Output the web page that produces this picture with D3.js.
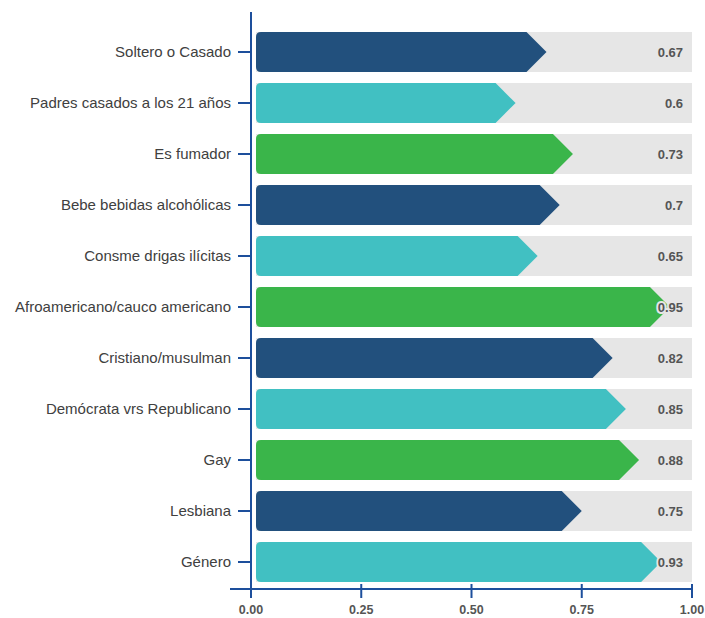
<!DOCTYPE html>
<html>
<head>
<meta charset="utf-8">
<script src="https://cdn.jsdelivr.net/npm/d3@7"></script>
<style>
  html, body { margin: 0; padding: 0; background: #ffffff; }
  svg { display: block; }
</style>
</head>
<body>
<svg id="chart" width="705" height="618"></svg>
<script>
// Categories, top to bottom
const categories = [
  "Soltero o Casado",
  "Padres casados a los 21 años",
  "Es fumador",
  "Bebe bebidas alcohólicas",
  "Consme drigas ilícitas",
  "Afroamericano/cauco americano",
  "Cristiano/musulman",
  "Demócrata vrs Republicano",
  "Gay",
  "Lesbiana",
  "Género"
];

// Value per category
const values = [0.67, 0.6, 0.73, 0.7, 0.65, 0.95, 0.82, 0.85, 0.88, 0.75, 0.93];

// Value labels as printed
const valueLabels = ["0.67", "0.6", "0.73", "0.7", "0.65", "0.95", "0.82", "0.85", "0.88", "0.75", "0.93"];

// X axis ticks
const xTicks = [0, 0.25, 0.5, 0.75, 1];
const xTickLabels = ["0.00", "0.25", "0.50", "0.75", "1.00"];

// Bar colours cycle
const palette = ["#22507d", "#41c0c2", "#3ab54a"];

const svg = d3.select("#chart");
const axisColor = "#1d4f9c";
const trackColor = "#e6e6e6";

const x = d3.scaleLinear().domain([0, 1]).range([251, 692]);
const y = d3.scaleBand()
  .domain(categories)
  .range([26.5, 587.5])
  .paddingInner(0.2157)
  .paddingOuter(0.1078);

const bw = y.bandwidth();
const barStart = x(0) + 5;
const arrowDepth = 20;
const r = 5;

// Grey tracks spanning the full domain
svg.append("g").selectAll("rect")
  .data(categories)
  .join("rect")
  .attr("x", barStart)
  .attr("y", d => y(d))
  .attr("width", x(1) - barStart)
  .attr("height", bw)
  .attr("fill", trackColor);

// Arrow-shaped bars, tip at the value
function arrowPath(v, top) {
  const tip = x(v);
  const body = tip - arrowDepth;
  const bottom = top + bw;
  const mid = top + bw / 2;
  const p = d3.path();
  p.moveTo(barStart + r, top);
  p.lineTo(body, top);
  p.lineTo(tip, mid);
  p.lineTo(body, bottom);
  p.lineTo(barStart + r, bottom);
  p.quadraticCurveTo(barStart, bottom, barStart, bottom - r);
  p.lineTo(barStart, top + r);
  p.quadraticCurveTo(barStart, top, barStart + r, top);
  p.closePath();
  return p.toString();
}

svg.append("g").selectAll("path")
  .data(categories)
  .join("path")
  .attr("d", (d, i) => arrowPath(values[i], y(d)))
  .attr("fill", (d, i) => palette[i % 3]);

// Value labels at the right end of each track, with a halo so they stay legible
svg.append("g").selectAll("text")
  .data(categories)
  .join("text")
  .attr("x", 683)
  .attr("y", d => y(d) + bw / 2)
  .attr("dy", "0.35em")
  .attr("text-anchor", "end")
  .attr("font-family", "'Liberation Sans', Arial, sans-serif")
  .attr("font-size", 13)
  .attr("font-weight", "bold")
  .attr("fill", "#555555")
  .attr("stroke", trackColor)
  .attr("stroke-width", 4)
  .attr("stroke-linejoin", "round")
  .attr("paint-order", "stroke")
  .text((d, i) => valueLabels[i]);

// Y axis: line, ticks and category labels
const yAxis = svg.append("g");
yAxis.append("line")
  .attr("x1", x(0)).attr("x2", x(0))
  .attr("y1", 12).attr("y2", 598)
  .attr("stroke", axisColor).attr("stroke-width", 2);
yAxis.selectAll("line.tick")
  .data(categories)
  .join("line")
  .attr("class", "tick")
  .attr("x1", 238).attr("x2", x(0))
  .attr("y1", d => y(d) + bw / 2).attr("y2", d => y(d) + bw / 2)
  .attr("stroke", axisColor).attr("stroke-width", 2);
yAxis.selectAll("text")
  .data(categories)
  .join("text")
  .attr("x", 231)
  .attr("y", d => y(d) + bw / 2)
  .attr("dy", "0.35em")
  .attr("text-anchor", "end")
  .attr("font-family", "'Liberation Sans', Arial, sans-serif")
  .attr("font-size", 15)
  .attr("fill", "#404040")
  .text(d => d);

// X axis: line, ticks and labels
const xAxisY = 589;
const xAxis = svg.append("g");
xAxis.append("line")
  .attr("x1", 230).attr("x2", x(1) + 1)
  .attr("y1", xAxisY).attr("y2", xAxisY)
  .attr("stroke", axisColor).attr("stroke-width", 2);
xAxis.selectAll("line.tick")
  .data(xTicks)
  .join("line")
  .attr("class", "tick")
  .attr("x1", d => x(d)).attr("x2", d => x(d))
  .attr("y1", xAxisY - 5).attr("y2", xAxisY + 9)
  .attr("stroke", axisColor).attr("stroke-width", 2);
xAxis.selectAll("text")
  .data(xTicks)
  .join("text")
  .attr("x", d => x(d))
  .attr("y", 614)
  .attr("text-anchor", "middle")
  .attr("font-family", "'Liberation Sans', Arial, sans-serif")
  .attr("font-size", 12.5)
  .attr("font-weight", "bold")
  .attr("fill", "#555555")
  .text((d, i) => xTickLabels[i]);
</script>
</body>
</html>
